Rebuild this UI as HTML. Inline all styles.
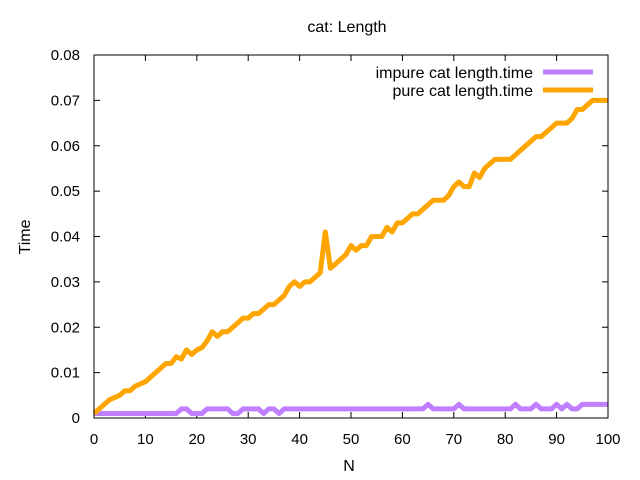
<!DOCTYPE html>
<html><head><meta charset="utf-8"><style>body{margin:0;background:#fff}svg{display:block;font-family:"Liberation Sans",sans-serif}</style></head>
<body>
<svg id="c" width="640" height="480">
<text x="347" y="32" font-size="16" text-anchor="middle">cat: Length</text>
<text x="349" y="471" font-size="16" text-anchor="middle">N</text>
<text transform="translate(30,237) rotate(-90)" font-size="16" text-anchor="middle">Time</text>
<g id="axes"></g><g id="series"></g>
<rect x="94" y="55" width="514" height="363" fill="none" stroke="#000" stroke-width="1"/>
<g>
<text x="533" y="78" font-size="16" text-anchor="end">impure cat length.time</text>
<line x1="543" y1="72" x2="593" y2="72" stroke="#bf7fff" stroke-width="5"/>
<text x="533" y="96" font-size="16" text-anchor="end">pure cat length.time</text>
<line x1="543" y1="90" x2="593" y2="90" stroke="#ffa500" stroke-width="5"/>
</g>
</svg>
<script>
const xTicks=[0,10,20,30,40,50,60,70,80,90,100];
const yTicks=[0,0.01,0.02,0.03,0.04,0.05,0.06,0.07,0.08];
const yTickLabels=["0","0.01","0.02","0.03","0.04","0.05","0.06","0.07","0.08"];
const pure=[1,2,3,4,4.5,5,6,6,7,7.5,8,9,10,11,12,12,13.5,13,15,14,15,15.5,17,19,18,19,19,20,21,22,22,23,23,24,25,25,26,27,29,30,29,30,30,31,32,41,33,34,35,36,38,37,38,38,40,40,40,42,41,43,43,44,45,45,46,47,48,48,48,49,51,52,51,51,54,53,55,56,57,57,57,57,58,59,60,61,62,62,63,64,65,65,65,66,68,68,69,70,70,70,70];
const impure=[1,1,1,1,1,1,1,1,1,1,1,1,1,1,1,1,1,2,2,1,1,1,2,2,2,2,2,1,1,2,2,2,2,1,2,2,1,2,2,2,2,2,2,2,2,2,2,2,2,2,2,2,2,2,2,2,2,2,2,2,2,2,2,2,2,3,2,2,2,2,2,3,2,2,2,2,2,2,2,2,2,2,3,2,2,2,3,2,2,2,3,2,3,2,2,3,3,3,3,3,3];
const X=n=>94+n*5.14, Y=v=>418-v*4537.5;
const NS="http://www.w3.org/2000/svg";
const ax=document.getElementById('axes'), se=document.getElementById('series');
function mk(t,a,p){const e=document.createElementNS(NS,t);for(const k in a)e.setAttribute(k,a[k]);p.appendChild(e);return e;}
xTicks.forEach(t=>{const x=X(t);
 const l=mk('path',{d:`M${x},418v-6M${x},55v6`,stroke:'#000'},ax);
 
 
 const tx=mk('text',{x:x,y:444,'font-size':15,'text-anchor':'middle'},ax);tx.textContent=t;
 
 });
yTicks.forEach((t,i)=>{const y=Y(t);
 const l=mk('path',{d:`M94,${y}h6M608,${y}h-6`,stroke:'#000'},ax);
 
 
 const tx=mk('text',{x:80,y:y+5,'font-size':15,'text-anchor':'end'},ax);tx.textContent=yTickLabels[i];
 
 });
function line(d,c,name){const p=mk('polyline',{points:d.map((v,i)=>X(i)+','+Y(v/1000)).join(' '),fill:'none',stroke:c,'stroke-width':5,'stroke-linejoin':'round'},se);
 
 }
line(impure,'#bf7fff','impure-series-line');
line(pure,'#ffa500','pure-series-line');
</script>
</body></html>
